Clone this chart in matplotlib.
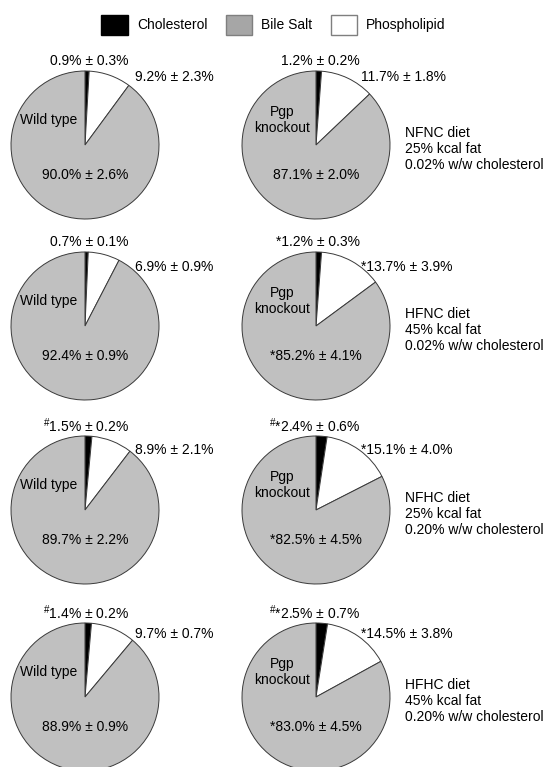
import matplotlib
matplotlib.use("Agg")
import matplotlib.pyplot as plt
from matplotlib.patches import Patch

plt.rcParams['font.family'] = ['Liberation Sans', 'DejaVu Sans']
plt.rcParams['mathtext.fontset'] = 'custom'
plt.rcParams['mathtext.rm'] = 'Liberation Sans'
plt.rcParams['font.size'] = 10

# bile composition (% of total lipid), rows = diets, wild type vs Pgp knockout
diets = ["NFNC diet\n25% kcal fat\n0.02% w/w cholesterol",
         "HFNC diet\n45% kcal fat\n0.02% w/w cholesterol",
         "NFHC diet\n25% kcal fat\n0.20% w/w cholesterol",
         "HFHC diet\n45% kcal fat\n0.20% w/w cholesterol"]

chol_wt = [0.9, 0.7, 1.5, 1.4]
chol_wt_sem = [0.3, 0.1, 0.2, 0.2]
chol_wt_sig = ['', '', '#', '#']
phos_wt = [9.2, 6.9, 8.9, 9.7]
phos_wt_sem = [2.3, 0.9, 2.1, 0.7]
bile_wt = [90.0, 92.4, 89.7, 88.9]
bile_wt_sem = [2.6, 0.9, 2.2, 0.9]

chol_ko = [1.2, 1.2, 2.4, 2.5]
chol_ko_sem = [0.2, 0.3, 0.6, 0.7]
chol_ko_sig = ['', '*', '#*', '#*']
phos_ko = [11.7, 13.7, 15.1, 14.5]
phos_ko_sem = [1.8, 3.9, 4.0, 3.8]
phos_ko_sig = ['', '*', '*', '*']
bile_ko = [87.1, 85.2, 82.5, 83.0]
bile_ko_sem = [2.0, 4.1, 4.5, 4.5]
bile_ko_sig = ['', '*', '*', '*']

pie_colors = ['black', 'white', '#c0c0c0']
W, H = 547, 767
R = 74
col_x = [85, 316]
row_y = [145, 326, 510, 697]
phos_dy = [68, 59, 60, 63]


def fmt(v, s, sig=''):
    pre = ''
    if sig.startswith('#'):
        pre = r'$^{\#}$'
        sig = sig[1:]
    return f"{pre}{sig}{v:.1f}% \u00b1 {s:.1f}%"


fig = plt.figure(figsize=(W / 100, H / 100), dpi=100)
ax = fig.add_axes([0, 0, 1, 1])
ax.set_xlim(0, W)
ax.set_ylim(0, H)
ax.set_aspect('equal')
ax.axis('off')

for i in range(4):
    for j in range(2):
        cx = col_x[j]
        cy = H - row_y[i]
        if j == 0:
            vals = [chol_wt[i], phos_wt[i], bile_wt[i]]
            labs = [fmt(chol_wt[i], chol_wt_sem[i], chol_wt_sig[i]),
                    fmt(phos_wt[i], phos_wt_sem[i]),
                    fmt(bile_wt[i], bile_wt_sem[i])]
        else:
            vals = [chol_ko[i], phos_ko[i], bile_ko[i]]
            labs = [fmt(chol_ko[i], chol_ko_sem[i], chol_ko_sig[i]),
                    fmt(phos_ko[i], phos_ko_sem[i], phos_ko_sig[i]),
                    fmt(bile_ko[i], bile_ko_sem[i], bile_ko_sig[i])]
        ax.pie(vals, colors=pie_colors, startangle=90, counterclock=False,
               center=(cx, cy), radius=R, frame=True,
               wedgeprops=dict(edgecolor='#3a3a3a', linewidth=0.7))
        ax.text(cx + 44, cy + 84, labs[0], ha='right', va='center')
        ax.text(cx + (50 if j == 0 else 45), cy + phos_dy[i], labs[1],
                ha='left', va='center')
        ax.text(cx, cy - 30, labs[2], ha='center', va='center')
        if j == 0:
            ax.text(cx - 8, cy + 25, "Wild type", ha='right', va='center')
        else:
            ax.text(cx - 34, cy + 25, "Pgp\nknockout", ha='center',
                    va='center', linespacing=1.15)
            ax.text(cx + 89, cy - 4, diets[i], ha='left', va='center',
                    linespacing=1.15)

ax.set_xlim(0, W)
ax.set_ylim(0, H)
ax.axis('off')

handles = [Patch(facecolor='black', edgecolor='black', label='Cholesterol'),
           Patch(facecolor='#a6a6a6', edgecolor='#7f7f7f', label='Bile Salt'),
           Patch(facecolor='white', edgecolor='#7f7f7f', label='Phospholipid')]
fig.legend(handles=handles, loc='center', bbox_to_anchor=(0.5, 1 - 25 / H),
           ncol=3, frameon=False, handlelength=1.93, handleheight=1.86,
           handletextpad=0.65, columnspacing=1.3, borderpad=0)

fig.savefig('out.png', dpi=100)
